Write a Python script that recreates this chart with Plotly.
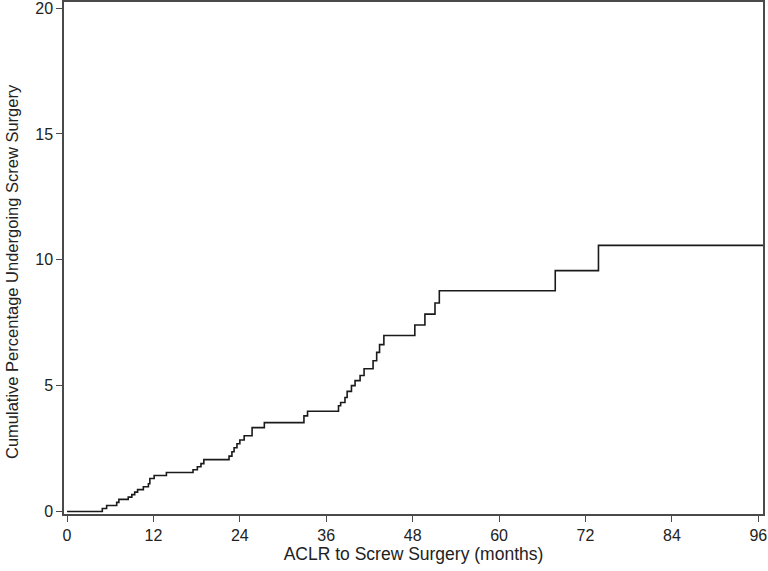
import plotly.graph_objects as go

# Step function: time of each event (months) and cumulative percentage after it
months = [0, 4.9, 5.5, 6.9, 7.2, 8.5, 9.0, 9.4, 9.8, 10.6, 11.3, 11.5, 12.1, 13.8,
          17.5, 18.1, 18.6, 19.0, 22.5, 22.9, 23.2, 23.6, 24.0, 24.6, 25.7, 27.4,
          32.9, 33.4, 37.7, 38.0, 38.6, 38.9, 39.5, 40.0, 40.7, 41.25, 42.5, 43.0,
          43.4, 44.0, 48.3, 49.7, 51.1, 51.7, 67.8, 73.8, 97.0]
cum_pct = [0, 0.12, 0.24, 0.36, 0.48, 0.57, 0.67, 0.77, 0.87, 0.98, 1.10, 1.31, 1.43, 1.55,
           1.66, 1.78, 1.90, 2.06, 2.20, 2.37, 2.53, 2.69, 2.84, 3.01, 3.33, 3.53,
           3.80, 3.98, 4.20, 4.33, 4.53, 4.77, 5.00, 5.20, 5.40, 5.67, 5.99, 6.32,
           6.63, 6.99, 7.41, 7.84, 8.28, 8.77, 9.57, 10.57, 10.57]

x_ticks = [0, 12, 24, 36, 48, 60, 72, 84, 96]
y_ticks = [0, 5, 10, 15, 20]

fig = go.Figure()
fig.add_trace(go.Scatter(
    x=months, y=cum_pct, mode="lines",
    line=dict(shape="hv", color="#1a1a1a", width=1.6),
    showlegend=False, hoverinfo="skip",
))

axis_common = dict(
    showgrid=False, zeroline=False, automargin=False,
    showline=True, mirror=True, linecolor="#4a4a4a", linewidth=1.5,
    ticks="outside", ticklen=6, tickwidth=1.2, tickcolor="#4a4a4a",
    ticklabeloverflow="allow",
    tickfont=dict(family="Liberation Sans, Arial, sans-serif", size=16, color="#222222"),
)

fig.update_layout(
    width=768, height=571,
    margin=dict(l=64, r=5, t=2, b=57),
    paper_bgcolor="white", plot_bgcolor="white",
    font=dict(family="Liberation Sans, Arial, sans-serif", color="#222222"),
    xaxis=dict(
        range=[-0.42, 96.65], tickvals=x_ticks, ticktext=[str(v) for v in x_ticks],
        title=dict(text="ACLR to Screw Surgery (months)",
                   font=dict(size=17.5, color="#222222"), standoff=3),
        **axis_common,
    ),
    yaxis=dict(
        range=[-0.1, 20.24], tickvals=y_ticks, ticktext=[str(v) for v in y_ticks],
        **axis_common,
    ),
    annotations=[dict(
        text="Cumulative Percentage Undergoing Screw Surgery",
        xref="paper", yref="paper", x=-0.0744, y=0.4746,
        xanchor="center", yanchor="middle", textangle=-90, showarrow=False,
        font=dict(size=16.5, color="#222222"),
    )],
)

fig.write_html("out.html", config={"displayModeBar": False},
               post_script="document.body.style.margin='0';document.body.style.overflow='hidden';")
